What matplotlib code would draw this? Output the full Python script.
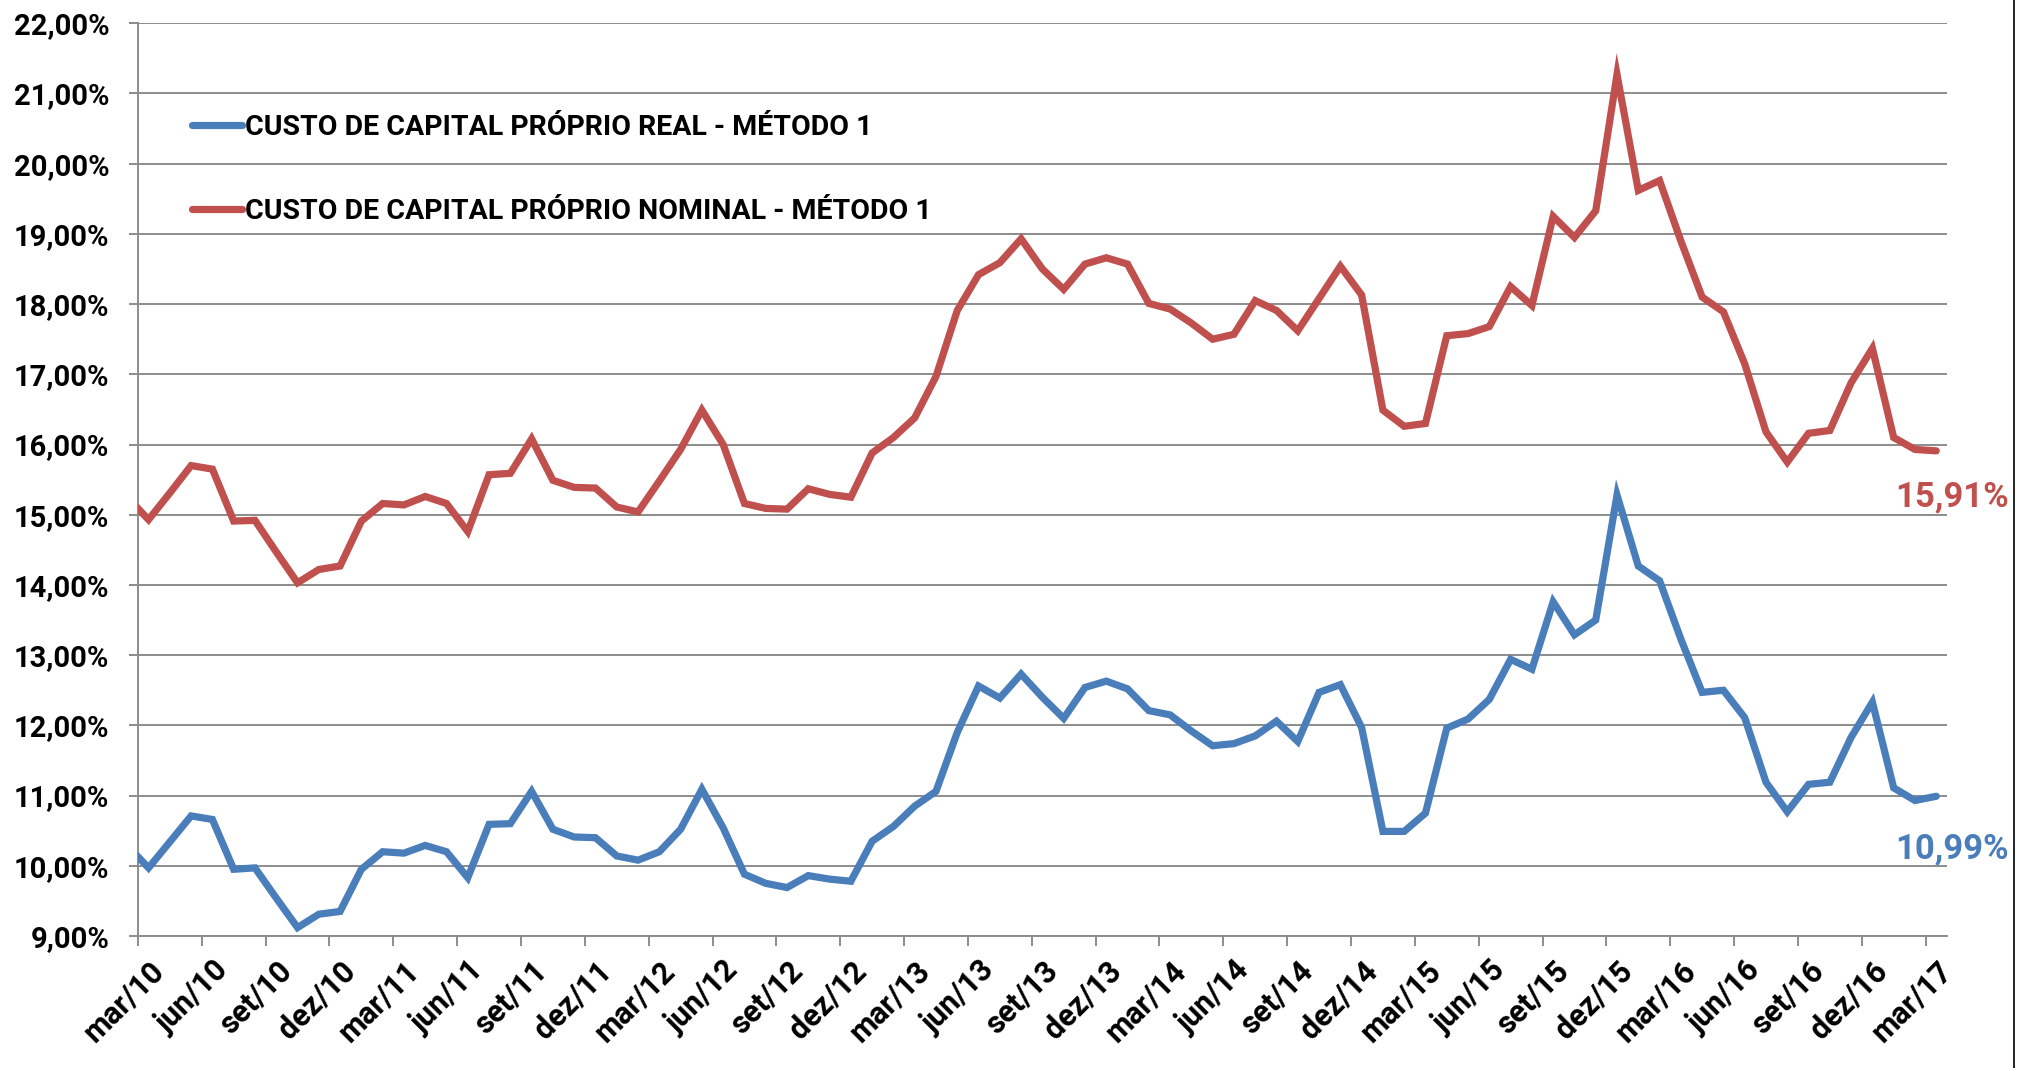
import numpy as np
import matplotlib
matplotlib.use("Agg")
import matplotlib.pyplot as plt
from matplotlib.lines import Line2D

plt.rcParams['font.family'] = ['Roboto', 'DejaVu Sans']

# ---- data (first value = fev/10, partially visible at the left edge) ----
first_month_index = -1
real_m1 = [10.29,
    9.97, 10.34, 10.71, 10.66, 9.95, 9.97, 9.54, 9.12, 9.31, 9.35,
    9.95, 10.20, 10.18, 10.29, 10.20, 9.83, 10.59, 10.60, 11.06, 10.52,
    10.41, 10.40, 10.14, 10.08, 10.20, 10.52, 11.09, 10.54, 9.88, 9.75,
    9.69, 9.86, 9.81, 9.78, 10.35, 10.56, 10.85, 11.06, 11.90, 12.56,
    12.39, 12.73, 12.40, 12.10, 12.54, 12.63, 12.52, 12.21, 12.15, 11.92,
    11.71, 11.74, 11.85, 12.06, 11.77, 12.47, 12.58, 11.97, 10.49, 10.49,
    10.75, 11.96, 12.09, 12.37, 12.94, 12.80, 13.76, 13.29, 13.50, 15.28,
    14.27, 14.06, 13.23, 12.47, 12.50, 12.11, 11.19, 10.77, 11.16, 11.19,
    11.83, 12.33, 11.11, 10.93, 10.99]
nominal_m1 = [15.25,
    14.93, 15.31, 15.70, 15.65, 14.91, 14.92, 14.47, 14.03, 14.22, 14.27,
    14.91, 15.16, 15.14, 15.26, 15.16, 14.76, 15.57, 15.59, 16.08, 15.49,
    15.39, 15.38, 15.11, 15.04, 15.48, 15.93, 16.49, 16.00, 15.16, 15.09,
    15.08, 15.37, 15.29, 15.25, 15.88, 16.10, 16.38, 16.97, 17.91, 18.42,
    18.59, 18.93, 18.50, 18.21, 18.57, 18.66, 18.57, 18.01, 17.93, 17.73,
    17.50, 17.57, 18.05, 17.91, 17.62, 18.08, 18.54, 18.13, 16.49, 16.26,
    16.30, 17.55, 17.58, 17.68, 18.25, 17.98, 19.25, 18.95, 19.33, 21.27,
    19.62, 19.76, 18.90, 18.10, 17.89, 17.15, 16.18, 15.75, 16.16, 16.20,
    16.88, 17.37, 16.10, 15.93, 15.91]
tick_labels = ["mar/10", "jun/10", "set/10", "dez/10",
               "mar/11", "jun/11", "set/11", "dez/11",
               "mar/12", "jun/12", "set/12", "dez/12",
               "mar/13", "jun/13", "set/13", "dez/13",
               "mar/14", "jun/14", "set/14", "dez/14",
               "mar/15", "jun/15", "set/15", "dez/15",
               "mar/16", "jun/16", "set/16", "dez/16",
               "mar/17"]
series_names = ["CUSTO DE CAPITAL PRÓPRIO REAL - MÉTODO 1",
                "CUSTO DE CAPITAL PRÓPRIO NOMINAL - MÉTODO 1"]
y_ticks = [9, 10, 11, 12, 13, 14, 15, 16, 17, 18, 19, 20, 21, 22]

BLUE = "#4A7EBB"
RED = "#C0504D"
GRID = "#8C8C8C"
LW = 5.2

x = np.arange(len(real_m1)) + first_month_index
n_last = x[-1]

fig = plt.figure(figsize=(20.28, 10.68), dpi=100)
ax = fig.add_axes([0.0680, 0.1236, 0.892, 0.8546])

ax.plot(x, real_m1, color=BLUE, lw=LW, solid_joinstyle='miter', solid_capstyle='round',
        label=series_names[0], zorder=3)
ax.plot(x, nominal_m1, color=RED, lw=LW, solid_joinstyle='miter', solid_capstyle='round',
        label=series_names[1], zorder=3)

ax.set_xlim(-0.5, n_last + 0.5)
ax.set_ylim(y_ticks[0], y_ticks[-1])

ax.set_yticks(y_ticks)
ax.set_yticklabels([f"{v:.2f}%".replace('.', ',') for v in y_ticks])
ax.yaxis.grid(True, color=GRID, lw=1.4)
ax.set_axisbelow(True)

# major ticks between categories, labels on minor ticks at the categories
ax.set_xticks(np.arange(-0.5, n_last + 0.6, 3))
ax.set_xticklabels([])
ax.set_xticks(np.arange(0, n_last + 1, 3), minor=True)
ax.set_xticklabels(tick_labels, minor=True)

ax.tick_params(axis='x', which='major', direction='out', length=7, width=1.4, color=GRID)
ax.tick_params(axis='x', which='minor', length=0, pad=14, labelsize=22)
ax.tick_params(axis='y', direction='out', length=6.5, width=1.4, color=GRID,
               pad=14, labelsize=21)
for lab in ax.get_xticklabels(minor=True):
    lab.set_rotation(45)
    lab.set_ha('right')
    lab.set_va('top')
    lab.set_rotation_mode('anchor')
    lab.set_fontweight('bold')
for lab in ax.get_yticklabels():
    lab.set_fontweight('bold')

for s in ['top', 'right']:
    ax.spines[s].set_visible(False)
for s in ['left', 'bottom']:
    ax.spines[s].set_color(GRID)
    ax.spines[s].set_linewidth(1.4)

leg = ax.legend(loc='center left', bbox_to_anchor=(0.0300, 0.8396), frameon=False,
                prop={'weight': 'bold', 'size': 20.5}, handlelength=1.75, handletextpad=0.12,
                labelspacing=2.0, borderpad=0, borderaxespad=0)
for h in leg.legend_handles:
    h.set_linewidth(LW)
    h.set_solid_capstyle('round')

# end-value labels
ax.annotate(f"{nominal_m1[-1]:.2f}%".replace('.', ','), xy=(n_last, nominal_m1[-1]),
            xytext=(16, -46), textcoords='offset pixels', ha='center', va='center',
            color=RED, fontsize=25, fontweight='bold', annotation_clip=False)
ax.annotate(f"{real_m1[-1]:.2f}%".replace('.', ','), xy=(n_last, real_m1[-1]),
            xytext=(16, -53), textcoords='offset pixels', ha='center', va='center',
            color=BLUE, fontsize=25, fontweight='bold', annotation_clip=False)

# right border line of the original image
fig.add_artist(Line2D([2014 / 2028, 2014 / 2028], [0, 1], transform=fig.transFigure,
                      color='black', lw=1.2))

fig.savefig("out.png", dpi=100)
